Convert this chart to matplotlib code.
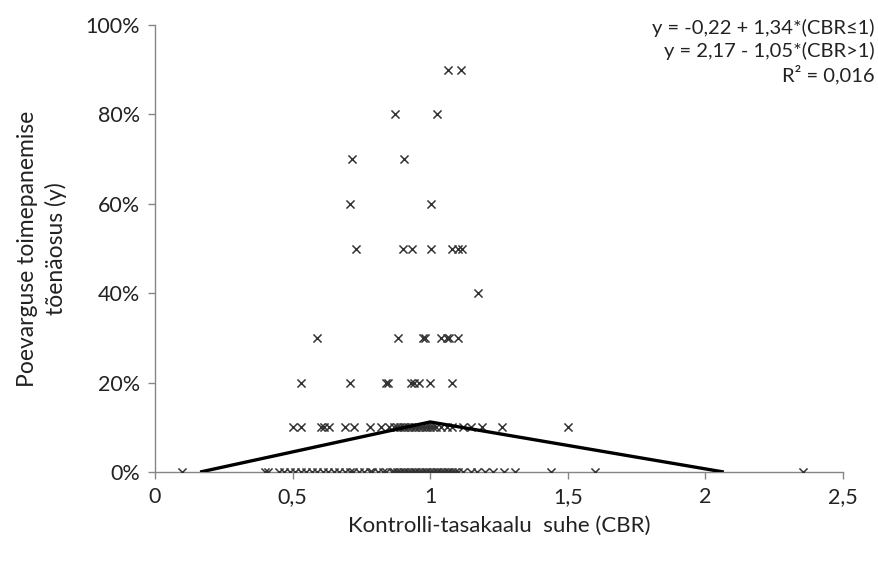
import numpy as np
import matplotlib
matplotlib.use('Agg')
import matplotlib.pyplot as plt

plt.rcParams['font.family'] = ['Lato', 'DejaVu Sans']

# --- Datos ------------------------------------------------------------------
# CBR por nivel de probabilidad
cbr_0 = [0.10, 0.40, 0.41, 0.45, 0.47, 0.49, 0.51, 0.53, 0.55, 0.57, 0.59, 0.61,
         0.63, 0.65, 0.67, 0.69, 0.71, 0.72, 0.74, 0.76, 0.78, 0.79, 0.81, 0.83,
         0.84, 0.86, 0.87, 0.88, 0.89, 0.90, 0.91, 0.92, 0.93, 0.94, 0.95, 0.96,
         0.97, 0.98, 0.99, 1.00, 1.01, 1.02, 1.03, 1.04, 1.05, 1.06, 1.07, 1.08,
         1.09, 1.10, 1.12, 1.15, 1.17, 1.20, 1.23, 1.27, 1.31, 1.44, 1.60, 2.355]
cbr_10 = [0.50, 0.53, 0.605, 0.616, 0.634, 0.69, 0.725, 0.78, 0.82, 0.85, 0.87,
          0.88, 0.89, 0.90, 0.91, 0.92, 0.93, 0.94, 0.95, 0.96, 0.97, 0.98, 0.99,
          1.00, 1.01, 1.02, 1.04, 1.06, 1.08, 1.12, 1.15, 1.19, 1.26, 1.50]
cbr_20 = [0.53, 0.71, 0.84, 0.845, 0.93, 0.94, 0.96, 1.00, 1.08]
cbr_30 = [0.587, 0.884, 0.975, 0.98, 1.04, 1.06, 1.07, 1.10]
cbr_40 = [1.174]
cbr_50 = [0.732, 0.902, 0.935, 1.004, 1.08, 1.10, 1.115]
cbr_60 = [0.71, 1.004]
cbr_70 = [0.717, 0.906]
cbr_80 = [0.873, 1.025]
cbr_90 = [1.065, 1.112]

niveles = [0.0, 0.1, 0.2, 0.3, 0.4, 0.5, 0.6, 0.7, 0.8, 0.9]
grupos = [cbr_0, cbr_10, cbr_20, cbr_30, cbr_40, cbr_50, cbr_60, cbr_70, cbr_80, cbr_90]

# Recta ajustada (vértices)
fit_x = [0.164, 1.0, 2.067]
fit_y = [0.0, 0.112, 0.0]

x_ticks = [0, 0.5, 1, 1.5, 2, 2.5]
x_ticklabels = ['0', '0,5', '1', '1,5', '2', '2,5']
y_ticks = [0, 0.2, 0.4, 0.6, 0.8, 1.0]
y_ticklabels = ['0%', '20%', '40%', '60%', '80%', '100%']

# --- Gráfico -----------------------------------------------------------------
fig = plt.figure(figsize=(8.79, 5.61), dpi=100)
ax = fig.add_axes([0.1763, 0.1586, 0.7827, 0.7968])

xs = np.concatenate([np.array(g) for g in grupos])
ys = np.concatenate([np.full(len(g), n) for g, n in zip(grupos, niveles)])
ax.plot(fit_x, fit_y, color='black', lw=2.4, zorder=3, solid_capstyle='butt')
ax.scatter(xs, ys, marker='x', s=34, color='#333333', linewidths=1.1, zorder=2)

ax.set_xlim(0, 2.5)
ax.set_ylim(0, 1.0)
ax.set_xticks(x_ticks)
ax.set_xticklabels(x_ticklabels)
ax.set_yticks(y_ticks)
ax.set_yticklabels(y_ticklabels)
ax.tick_params(axis='both', colors='#868686', labelcolor='#222222', labelsize=15.5,
               length=5, width=1, direction='out')
ax.tick_params(axis='x', pad=6)
ax.tick_params(axis='y', pad=6)
for s in ['top', 'right']:
    ax.spines[s].set_visible(False)
for s in ['left', 'bottom']:
    ax.spines[s].set_color('#868686')
    ax.spines[s].set_linewidth(1)
    ax.spines[s].set_zorder(0)

ax.set_xlabel('Kontrolli-tasakaalu  suhe (CBR)', fontsize=16, labelpad=6,
              color='#222222')
ax.set_ylabel('Poevarguse toimepanemise\ntõenäosus (y)', fontsize=16.5, labelpad=13,
              linespacing=1.4, color='#222222')

fig.text(0.995, 0.966, 'y = -0,22 + 1,34*(CBR≤1)\ny = 2,17 - 1,05*(CBR>1)\nR² = 0,016',
         ha='right', va='top', fontsize=14.5, linespacing=1.3, color='#222222')

fig.savefig('out.png', dpi=100)
